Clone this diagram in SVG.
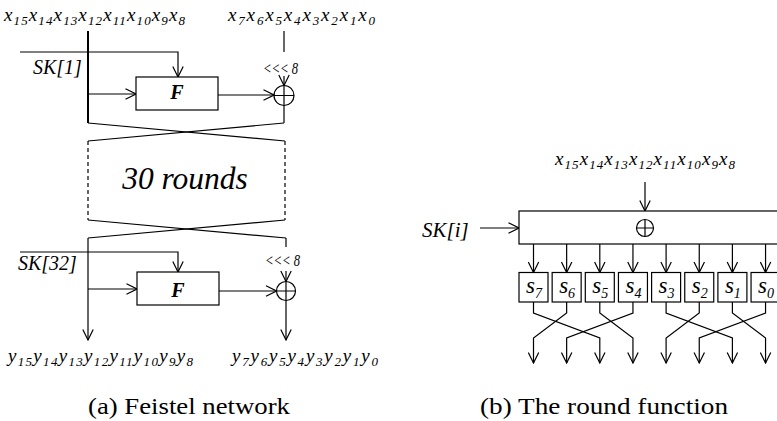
<svg xmlns="http://www.w3.org/2000/svg" width="777" height="421" viewBox="0 0 777 421">
<defs>
<marker id="arr" viewBox="0 0 12 12" refX="11.5" refY="6" markerWidth="12" markerHeight="12" markerUnits="userSpaceOnUse" orient="auto"><path d="M1,0.8 L11.5,6 L1,11.2" fill="none" stroke="#000" stroke-width="1.2"/></marker>
</defs>
<rect width="777" height="421" fill="#fff"/>

<g id="connectors" fill="none" stroke="#000" stroke-width="1.2">
  <path d="M88,31 V123" stroke-width="2"/>
  <path d="M20,52 H178 V77" marker-end="url(#arr)"/>
  <path d="M88,94 H136" marker-end="url(#arr)"/>
  <path d="M218,95 H274" marker-end="url(#arr)"/>
  <path d="M284,31 V52"/>
  <path d="M284,76 V85.5" marker-end="url(#arr)"/>
  <path d="M284,105.5 V123"/>
  <path d="M88,123 L285,141"/>
  <path d="M284,123 L88,141"/>
  <path d="M88,141 V220" stroke-dasharray="4 3"/>
  <path d="M285,141 V220" stroke-dasharray="4 3"/>
  <path d="M88,220 L286,238"/>
  <path d="M285,220 L88,238"/>
  <path d="M88,238 V340" marker-end="url(#arr)"/>
  <path d="M286,238 V247"/>
  <path d="M20,252 H178 V272" marker-end="url(#arr)"/>
  <path d="M88,289 H137" marker-end="url(#arr)"/>
  <path d="M219,291 H276.5" marker-end="url(#arr)"/>
  <path d="M286,271 V281.5" marker-end="url(#arr)"/>
  <path d="M286,300.5 V340" marker-end="url(#arr)"/>
  <path d="M645,182 V211" marker-end="url(#arr)"/>
  <path d="M480,228 H519" marker-end="url(#arr)"/>
  <path d="M533.5,244 V272.5" marker-end="url(#arr)"/>
  <path d="M566.65,244 V272.5" marker-end="url(#arr)"/>
  <path d="M599.8,244 V272.5" marker-end="url(#arr)"/>
  <path d="M632.95,244 V272.5" marker-end="url(#arr)"/>
  <path d="M666.1,244 V272.5" marker-end="url(#arr)"/>
  <path d="M699.25,244 V272.5" marker-end="url(#arr)"/>
  <path d="M732.4,244 V272.5" marker-end="url(#arr)"/>
  <path d="M765.55,244 V272.5" marker-end="url(#arr)"/>
  <path d="M533.5,302 V313 L599.8,338 V363" marker-end="url(#arr)"/>
  <path d="M566.65,302 V313 L533.5,338 V363" marker-end="url(#arr)"/>
  <path d="M599.8,302 V313 L632.95,338 V363" marker-end="url(#arr)"/>
  <path d="M632.95,302 V313 L566.65,338 V363" marker-end="url(#arr)"/>
  <path d="M666.1,302 V313 L732.4,338 V363" marker-end="url(#arr)"/>
  <path d="M699.25,302 V313 L666.1,338 V363" marker-end="url(#arr)"/>
  <path d="M732.4,302 V313 L765.55,338 V363" marker-end="url(#arr)"/>
  <path d="M765.55,302 V313 L699.25,338 V363" marker-end="url(#arr)"/>
</g>

<g id="input-left">
  <text x="4" y="21" font-size="19" font-family="Liberation Serif" font-style="italic" textLength="181" lengthAdjust="spacing">x<tspan font-size="13" dy="4">15</tspan><tspan dy="-4">x</tspan><tspan font-size="13" dy="4">14</tspan><tspan dy="-4">x</tspan><tspan font-size="13" dy="4">13</tspan><tspan dy="-4">x</tspan><tspan font-size="13" dy="4">12</tspan><tspan dy="-4">x</tspan><tspan font-size="13" dy="4">11</tspan><tspan dy="-4">x</tspan><tspan font-size="13" dy="4">10</tspan><tspan dy="-4">x</tspan><tspan font-size="13" dy="4">9</tspan><tspan dy="-4">x</tspan><tspan font-size="13" dy="4">8</tspan></text>
</g>
<g id="input-right">
  <text x="228" y="21" font-size="19" font-family="Liberation Serif" font-style="italic" textLength="147" lengthAdjust="spacing">x<tspan font-size="13" dy="4">7</tspan><tspan dy="-4">x</tspan><tspan font-size="13" dy="4">6</tspan><tspan dy="-4">x</tspan><tspan font-size="13" dy="4">5</tspan><tspan dy="-4">x</tspan><tspan font-size="13" dy="4">4</tspan><tspan dy="-4">x</tspan><tspan font-size="13" dy="4">3</tspan><tspan dy="-4">x</tspan><tspan font-size="13" dy="4">2</tspan><tspan dy="-4">x</tspan><tspan font-size="13" dy="4">1</tspan><tspan dy="-4">x</tspan><tspan font-size="13" dy="4">0</tspan></text>
</g>

<g id="sk1"><text x="33" y="74" font-size="20" font-family="Liberation Serif" font-style="italic">SK[1]</text></g>
<g id="F1">
  <rect x="136" y="77" width="82" height="33" fill="#fff" stroke="#000" stroke-width="1.2"/>
  <text x="177" y="99" font-size="20" font-family="Liberation Serif" font-style="italic" font-weight="bold" text-anchor="middle">F</text>
</g>
<g id="rot1"><text x="263" y="74" font-size="17" font-family="Liberation Serif" font-style="italic" textLength="35" lengthAdjust="spacingAndGlyphs">&lt;&lt;&lt; 8</text></g>
<g id="xor1" fill="none" stroke="#000" stroke-width="1.2">
  <circle cx="284" cy="95.5" r="10"/>
  <path d="M274,95.5 H294 M284,85.5 V105.5"/>
</g>

<g id="rounds">
  <text x="185" y="189" font-size="31.5" font-family="Liberation Serif" font-style="italic" text-anchor="middle">30 rounds</text>
</g>

<g id="sk32"><text x="18" y="270" font-size="20" font-family="Liberation Serif" font-style="italic">SK[32]</text></g>
<g id="F32">
  <rect x="137" y="272" width="82" height="33" fill="#fff" stroke="#000" stroke-width="1.2"/>
  <text x="178" y="297" font-size="20" font-family="Liberation Serif" font-style="italic" font-weight="bold" text-anchor="middle">F</text>
</g>
<g id="rot32"><text x="265" y="266" font-size="17" font-family="Liberation Serif" font-style="italic" textLength="35" lengthAdjust="spacingAndGlyphs">&lt;&lt;&lt; 8</text></g>
<g id="xor32" fill="none" stroke="#000" stroke-width="1.2">
  <circle cx="286" cy="291" r="9.5"/>
  <path d="M276.5,291 H295.5 M286,281.5 V300.5"/>
</g>

<g id="output-left">
  <text x="8" y="362" font-size="19" font-family="Liberation Serif" font-style="italic" textLength="185" lengthAdjust="spacing">y<tspan font-size="13" dy="4">15</tspan><tspan dy="-4">y</tspan><tspan font-size="13" dy="4">14</tspan><tspan dy="-4">y</tspan><tspan font-size="13" dy="4">13</tspan><tspan dy="-4">y</tspan><tspan font-size="13" dy="4">12</tspan><tspan dy="-4">y</tspan><tspan font-size="13" dy="4">11</tspan><tspan dy="-4">y</tspan><tspan font-size="13" dy="4">10</tspan><tspan dy="-4">y</tspan><tspan font-size="13" dy="4">9</tspan><tspan dy="-4">y</tspan><tspan font-size="13" dy="4">8</tspan></text>
</g>
<g id="output-right">
  <text x="232" y="362" font-size="19" font-family="Liberation Serif" font-style="italic" textLength="146" lengthAdjust="spacing">y<tspan font-size="13" dy="4">7</tspan><tspan dy="-4">y</tspan><tspan font-size="13" dy="4">6</tspan><tspan dy="-4">y</tspan><tspan font-size="13" dy="4">5</tspan><tspan dy="-4">y</tspan><tspan font-size="13" dy="4">4</tspan><tspan dy="-4">y</tspan><tspan font-size="13" dy="4">3</tspan><tspan dy="-4">y</tspan><tspan font-size="13" dy="4">2</tspan><tspan dy="-4">y</tspan><tspan font-size="13" dy="4">1</tspan><tspan dy="-4">y</tspan><tspan font-size="13" dy="4">0</tspan></text>
</g>

<g id="caption-a"><text x="88" y="414" font-size="23" font-family="Liberation Serif" textLength="202" lengthAdjust="spacingAndGlyphs">(a) Feistel network</text></g>

<g id="rf-input">
  <text x="555" y="165" font-size="19" font-family="Liberation Serif" font-style="italic" textLength="180" lengthAdjust="spacing">x<tspan font-size="13" dy="4">15</tspan><tspan dy="-4">x</tspan><tspan font-size="13" dy="4">14</tspan><tspan dy="-4">x</tspan><tspan font-size="13" dy="4">13</tspan><tspan dy="-4">x</tspan><tspan font-size="13" dy="4">12</tspan><tspan dy="-4">x</tspan><tspan font-size="13" dy="4">11</tspan><tspan dy="-4">x</tspan><tspan font-size="13" dy="4">10</tspan><tspan dy="-4">x</tspan><tspan font-size="13" dy="4">9</tspan><tspan dy="-4">x</tspan><tspan font-size="13" dy="4">8</tspan></text>
</g>
<g id="ski"><text x="422" y="237" font-size="21" font-family="Liberation Serif" font-style="italic">SK[i]</text></g>
<g id="xor-box">
  <rect x="519" y="211" width="280" height="33" fill="#fff" stroke="#000" stroke-width="1.2"/>
  <circle cx="645" cy="228" r="8.5" fill="none" stroke="#000" stroke-width="1.2"/>
  <path d="M636.5,228 H653.5 M645,219.5 V236.5" fill="none" stroke="#000" stroke-width="1.2"/>
</g>
<g id="s7"><rect x="519" y="272.5" width="29" height="29.5" fill="#fff" stroke="#000" stroke-width="1.2"/><text x="526" y="293" font-size="23" font-family="Liberation Serif" font-style="italic">s<tspan font-size="14" dy="5">7</tspan></text></g>
<g id="s6"><rect x="552.15" y="272.5" width="29" height="29.5" fill="#fff" stroke="#000" stroke-width="1.2"/><text x="559.15" y="293" font-size="23" font-family="Liberation Serif" font-style="italic">s<tspan font-size="14" dy="5">6</tspan></text></g>
<g id="s5"><rect x="585.3" y="272.5" width="29" height="29.5" fill="#fff" stroke="#000" stroke-width="1.2"/><text x="592.3" y="293" font-size="23" font-family="Liberation Serif" font-style="italic">s<tspan font-size="14" dy="5">5</tspan></text></g>
<g id="s4"><rect x="618.45" y="272.5" width="29" height="29.5" fill="#fff" stroke="#000" stroke-width="1.2"/><text x="625.45" y="293" font-size="23" font-family="Liberation Serif" font-style="italic">s<tspan font-size="14" dy="5">4</tspan></text></g>
<g id="s3"><rect x="651.6" y="272.5" width="29" height="29.5" fill="#fff" stroke="#000" stroke-width="1.2"/><text x="658.6" y="293" font-size="23" font-family="Liberation Serif" font-style="italic">s<tspan font-size="14" dy="5">3</tspan></text></g>
<g id="s2"><rect x="684.75" y="272.5" width="29" height="29.5" fill="#fff" stroke="#000" stroke-width="1.2"/><text x="691.75" y="293" font-size="23" font-family="Liberation Serif" font-style="italic">s<tspan font-size="14" dy="5">2</tspan></text></g>
<g id="s1"><rect x="717.9" y="272.5" width="29" height="29.5" fill="#fff" stroke="#000" stroke-width="1.2"/><text x="724.9" y="293" font-size="23" font-family="Liberation Serif" font-style="italic">s<tspan font-size="14" dy="5">1</tspan></text></g>
<g id="s0"><rect x="751.05" y="272.5" width="29" height="29.5" fill="#fff" stroke="#000" stroke-width="1.2"/><text x="758.05" y="293" font-size="23" font-family="Liberation Serif" font-style="italic">s<tspan font-size="14" dy="5">0</tspan></text></g>

<g id="caption-b"><text x="480" y="414" font-size="23" font-family="Liberation Serif" textLength="248" lengthAdjust="spacingAndGlyphs">(b) The round function</text></g>
</svg>
